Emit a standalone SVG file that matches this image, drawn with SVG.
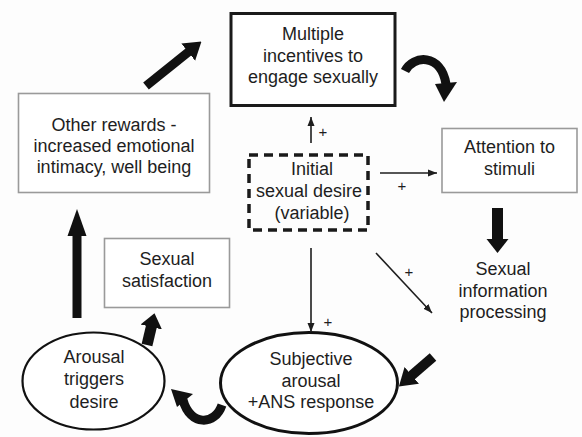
<svg xmlns="http://www.w3.org/2000/svg" width="582" height="437" viewBox="0 0 582 437">
<style>
text{font-family:"Liberation Sans",Arial,sans-serif;font-size:18px;fill:#1e1e1e;text-anchor:middle}
.plus{font-size:15px}
.gbox{fill:#fff;stroke:#9a9a9a;stroke-width:1.6}
.thin{stroke:#1e1e1e;stroke-width:1.6;fill:none}
.thick{stroke:#111;fill:none}
.fillk{fill:#111}
</style>
<defs>
<marker id="hd" markerUnits="userSpaceOnUse" viewBox="0 -12 17 24" markerWidth="17" markerHeight="24" refX="1" refY="0" orient="auto">
<path d="M0,-11 L17,0 L0,11 z" fill="#111"/>
</marker>
<marker id="hdtall" markerUnits="userSpaceOnUse" viewBox="0 -10 27 20" markerWidth="27" markerHeight="20" refX="1" refY="0" orient="auto">
<path d="M0,-9.5 L27,0 L0,9.5 z" fill="#111"/>
</marker>
<marker id="hdshort" markerUnits="userSpaceOnUse" viewBox="0 -12 14 24" markerWidth="14" markerHeight="24" refX="1" refY="0" orient="auto">
<path d="M0,-11 L14,0 L0,11 z" fill="#111"/>
</marker>
<marker id="th" markerUnits="userSpaceOnUse" viewBox="0 -4 9 8" markerWidth="9" markerHeight="8" refX="9" refY="0" orient="auto">
<path d="M0,-3.5 L9,0 L0,3.5 z" fill="#1e1e1e"/>
</marker>
</defs>
<rect width="582" height="437" fill="#fdfdfd"/>

<g id="multiple-incentives">
<rect x="231" y="13.5" width="164" height="92" fill="#fff" stroke="#1a1a1a" stroke-width="3"/>
<text x="313" y="40">Multiple</text>
<text x="313" y="62">incentives to</text>
<text x="313" y="83">engage sexually</text>
</g>

<g id="other-rewards">
<rect class="gbox" x="18.5" y="93.5" width="191" height="99"/>
<text x="114" y="131">Other rewards -</text>
<text x="114" y="152">increased emotional</text>
<text x="114" y="173">intimacy, well being</text>
</g>

<g id="initial-desire">
<rect x="249" y="155" width="119" height="75" fill="none" stroke="#1a1a1a" stroke-width="3.5" stroke-dasharray="9 6"/>
<text x="312" y="175">Initial</text>
<text x="309" y="197">sexual desire</text>
<text x="312" y="219">(variable)</text>
</g>

<g id="attention">
<rect class="gbox" x="442" y="128.5" width="135" height="64"/>
<text x="509.5" y="153">Attention to</text>
<text x="509.5" y="175">stimuli</text>
</g>

<g id="sexual-info">
<text x="503" y="275">Sexual</text>
<text x="503" y="297">information</text>
<text x="503" y="318">processing</text>
</g>

<g id="sexual-satisfaction">
<rect class="gbox" x="104.5" y="238.5" width="125" height="69"/>
<text x="167" y="265">Sexual</text>
<text x="167" y="287">satisfaction</text>
</g>

<g id="arousal-triggers">
<ellipse cx="93.5" cy="381" rx="71" ry="48.5" fill="#fff" stroke="#111" stroke-width="2.2"/>
<text x="94" y="363">Arousal</text>
<text x="94" y="385">triggers</text>
<text x="94" y="408">desire</text>
</g>

<g id="subjective-arousal">
<ellipse cx="309" cy="383" rx="88.5" ry="50.5" fill="#fff" stroke="#111" stroke-width="3"/>
<text x="311" y="365">Subjective</text>
<text x="311" y="387">arousal</text>
<text x="311" y="408">+ANS response</text>
</g>

<g id="connectors">
<!-- thick arrows -->
<path class="thick" d="M146,86 L189,51.5" stroke-width="9" marker-end="url(#hd)"/>
<path class="thick" d="M77,318 L77,235" stroke-width="9" marker-end="url(#hdtall)"/>
<path class="thick" d="M497.5,208 L497.5,240" stroke-width="11" marker-end="url(#hdshort)"/>
<path class="thick" d="M433,357 L411,376" stroke-width="10" marker-end="url(#hd)"/>
<path class="thick" d="M147,345 L151.5,326" stroke-width="11" marker-end="url(#hdshort)"/>
<!-- curved thick arrows -->
<path class="thick" d="M405,71 C413,55 441,53 446,84" stroke-width="9"/>
<path class="fillk" d="M435,84 L457,82 L444,102 z"/>
<path class="thick" d="M222,405 C215,426 190,426 183,400" stroke-width="9"/>
<path class="fillk" d="M171,389 L193,394 L177,407 z"/>
<!-- thin arrows -->
<path class="thin" d="M311,143 L311,117" marker-end="url(#th)"/>
<path class="thin" d="M380,173 L437,173" marker-end="url(#th)"/>
<path class="thin" d="M311,248 L311,332" marker-end="url(#th)"/>
<path class="thin" d="M376,253 L432,313" marker-end="url(#th)"/>
<text class="plus" x="323" y="137">+</text>
<text class="plus" x="402" y="191">+</text>
<text class="plus" x="328" y="327">+</text>
<text class="plus" x="409" y="277">+</text>
</g>
</svg>
